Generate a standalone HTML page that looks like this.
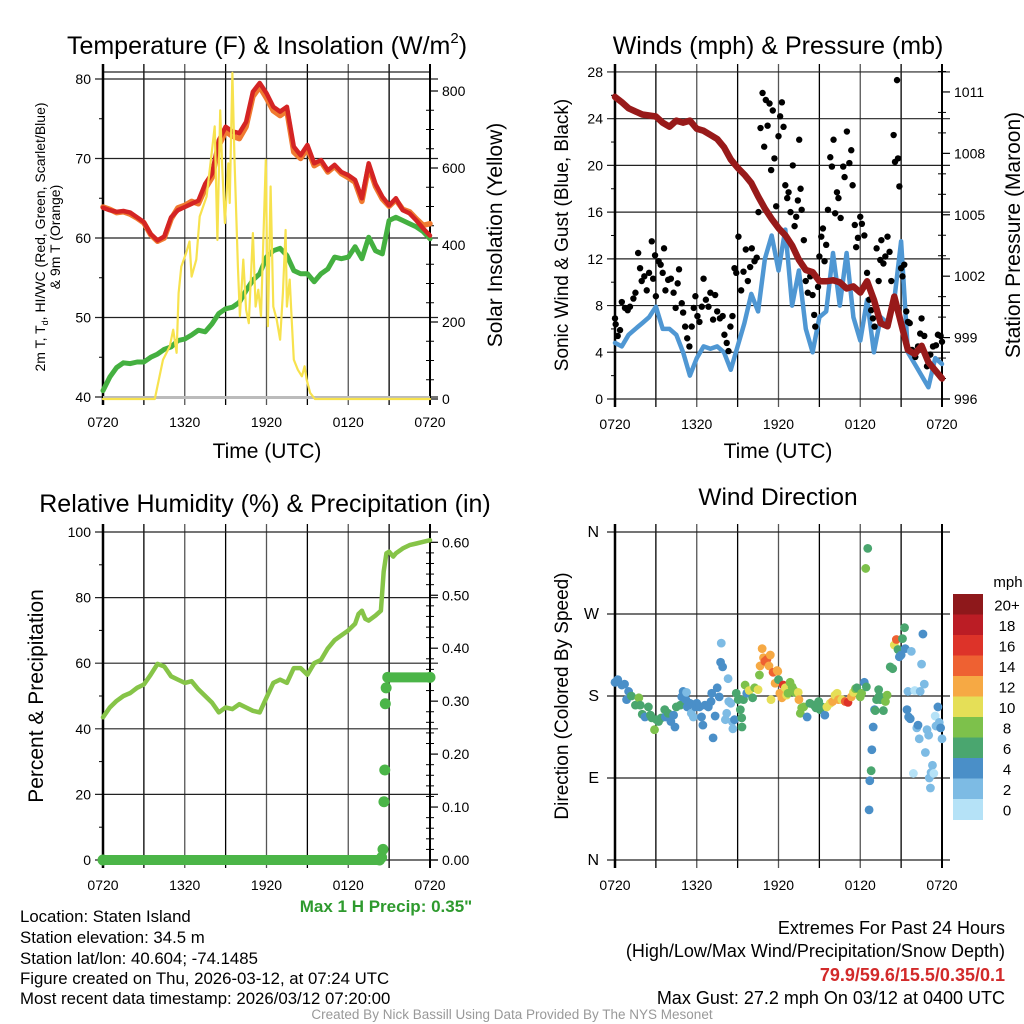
<!DOCTYPE html>
<html><head><meta charset="utf-8"><title>Mesonet Meteogram</title>
<style>
html,body{margin:0;padding:0;background:#fff;}
svg{display:block;font-family:"Liberation Sans",Arial,sans-serif;}
.tk{font-size:14px;fill:#000;}
</style></head>
<body>
<svg id="chart" width="1024" height="1024" viewBox="0 0 1024 1024" xmlns="http://www.w3.org/2000/svg">
<rect width="1024" height="1024" fill="#fff"/>
<g id="p1"></g>
<g id="p2"></g>
<g id="p3"></g>
<g id="p4"></g>

<text x="267" y="54" font-size="25" text-anchor="middle">Temperature (F) &amp; Insolation (W/m<tspan font-size="15" dy="-11">2</tspan><tspan dy="11">)</tspan></text>
<text x="778" y="54" font-size="25" text-anchor="middle">Winds (mph) &amp; Pressure (mb)</text>
<text x="265" y="512" font-size="25" text-anchor="middle">Relative Humidity (%) &amp; Precipitation (in)</text>
<text x="778" y="505" font-size="24.5" text-anchor="middle">Wind Direction</text>

<text x="267" y="458" font-size="21" text-anchor="middle">Time (UTC)</text>
<text x="778" y="458" font-size="21" text-anchor="middle">Time (UTC)</text>

<text transform="translate(45,237) rotate(-90)" font-size="14" text-anchor="middle">2m T, T<tspan font-size="9" dy="3">d</tspan><tspan dy="-3">, HI/WC (Red, Green, Scarlet/Blue)</tspan></text>
<text transform="translate(60,237) rotate(-90)" font-size="14" text-anchor="middle">&amp; 9m T (Orange)</text>
<text transform="translate(502,235) rotate(-90)" font-size="21" text-anchor="middle">Solar Insolation (Yellow)</text>
<text transform="translate(568,235) rotate(-90)" font-size="19" text-anchor="middle">Sonic Wind &amp; Gust (Blue, Black)</text>
<text transform="translate(1020,235) rotate(-90)" font-size="21" text-anchor="middle">Station Pressure (Maroon)</text>
<text transform="translate(43,696) rotate(-90)" font-size="21" text-anchor="middle">Percent &amp; Precipitation</text>
<text transform="translate(568,696) rotate(-90)" font-size="19" text-anchor="middle">Direction (Colored By Speed)</text>

<text x="386" y="912" font-size="17" font-weight="bold" fill="#2e9a2e" text-anchor="middle">Max 1 H Precip: 0.35"</text>
<g font-size="16.8">
<text x="20" y="922">Location: Staten Island</text>
<text x="20" y="943">Station elevation: 34.5 m</text>
<text x="20" y="964">Station lat/lon: 40.604; -74.1485</text>
<text x="20" y="984">Figure created on Thu, 2026-03-12, at 07:24 UTC</text>
<text x="20" y="1004">Most recent data timestamp: 2026/03/12 07:20:00</text>
</g>
<g font-size="18" text-anchor="end">
<text x="1005" y="934">Extremes For Past 24 Hours</text>
<text x="1005" y="957">(High/Low/Max Wind/Precipitation/Snow Depth)</text>
<text x="1005" y="981" font-weight="bold" fill="#d22a2a">79.9/59.6/15.5/0.35/0.1</text>
<text x="1005" y="1004">Max Gust: 27.2 mph On 03/12 at 0400 UTC</text>
</g>
<text x="512" y="1019" font-size="13.5" fill="#999" text-anchor="middle">Created By Nick Bassill Using Data Provided By The NYS Mesonet</text>
</svg>
<script>
const NS='http://www.w3.org/2000/svg';
// ---- data (hours since 07:20 UTC) ----
const halfHours=[0,0.5,1,1.5,2,2.5,3,3.5,4,4.5,5,5.5,6,6.5,7,7.5,8,8.5,9,9.5,10,10.5,11,11.5,12,12.5,13,13.5,14,14.5,15,15.5,16,16.5,17,17.5,18,18.5,19,19.5,20,20.5,21,21.5,22,22.5,23,23.5,24];
const timeLabels=['0720','1320','1920','0120','0720'];
const tempRed=[63.8,63.5,63.3,63.4,63.2,62.6,62.0,60.5,59.7,60.2,62.6,63.5,63.9,64.3,64.7,66.8,68.1,72.3,74.0,73.4,73.2,74.6,78.4,79.5,78.2,76.5,75.9,76.5,71.5,70.4,71.7,69.4,69.8,68.5,69.2,68.3,67.9,67.3,65.0,69.4,66.8,65.2,64.1,65.0,63.5,63.1,62.2,61.2,60.3];
const temp9m=[63.9,63.6,63.2,63.3,63.0,62.5,61.9,60.4,59.6,60.0,62.4,63.8,64.1,64.6,64.3,66.2,67.6,71.6,73.4,72.8,72.5,74.0,77.8,79.0,77.6,76.0,75.4,76.0,70.8,70.0,71.3,69.1,69.6,68.3,69.0,68.1,67.6,67.0,64.6,69.0,66.5,64.9,64.0,64.8,63.6,63.3,62.4,61.6,61.8];
const dewpoint=[40.8,42.5,43.7,44.3,44.2,44.4,44.4,45.0,45.4,46.0,46.3,47.1,47.3,47.8,48.4,48.2,49.2,50.5,51.1,51.3,51.9,53.4,54.7,55.5,57.6,58.4,58.7,57.8,55.9,55.5,55.5,54.5,55.5,56.1,57.6,57.4,57.6,58.9,57.4,60.1,58.4,58.0,62.2,62.6,62.2,61.8,61.4,60.8,59.9];
const solarHours=[0,3.8,4.4,4.9,5.15,5.4,5.55,5.75,6.1,6.35,6.5,6.85,7.1,7.6,7.95,8.2,8.4,8.6,8.75,8.95,9.2,9.3,9.5,9.65,9.9,10.05,10.3,10.5,10.7,11.0,11.2,11.4,11.6,11.95,12.1,12.3,12.5,12.75,13.0,13.2,13.4,13.5,13.7,13.85,14.0,14.3,14.6,14.8,14.95,15.2,15.55,24];
const solarValues=[0,0,102,137,180,120,275,344,379,409,318,362,474,526,630,708,413,750,604,457,612,509,847,621,344,215,362,232,197,431,240,284,215,621,189,552,240,206,154,275,439,240,310,206,102,76,59,85,50,16,0,0];
const pressure=[1010.76,1010.5,1010.2,1010.05,1009.9,1009.85,1009.8,1009.5,1009.3,1009.6,1009.5,1009.6,1009.2,1009.1,1008.9,1008.7,1008.3,1007.7,1007.3,1006.96,1006.55,1005.9,1005.3,1004.8,1004.35,1004.0,1003.5,1002.8,1002.3,1002.2,1001.75,1001.75,1001.8,1001.7,1001.4,1001.5,1001.2,1001.75,1000.85,999.7,999.55,1001.0,999.7,998.4,998.2,998.6,997.8,997.4,997.0];
const windSpeed=[4.8,4.5,5.5,6.0,6.5,7.0,7.9,6.0,6.0,5.5,4.0,2.0,3.5,4.5,4.3,4.5,4.0,2.5,4.5,6.5,9.0,7.5,12.0,14.0,11.0,14.5,8.0,11.0,6.0,4.0,7.0,7.5,12.5,8.0,12.5,7.0,5.0,8.5,4.0,7.0,6.5,8.5,13.5,4.0,3.0,2.0,1.0,3.5,3.0];
const gustHours=[0,0.05,0.2,0.37,0.5,0.73,0.93,1.1,1.35,1.5,1.7,1.84,1.96,2.15,2.33,2.5,2.7,2.8,2.94,3.0,3.2,3.35,3.5,3.6,3.7,3.9,4.1,4.3,4.45,4.6,4.7,4.9,5.0,5.15,5.3,5.46,5.63,5.78,5.9,6.05,6.2,6.37,6.5,6.67,6.86,7.0,7.2,7.35,7.5,7.7,7.9,8.03,8.2,8.33,8.47,8.62,8.77,8.9,9.06,9.26,9.43,9.6,9.75,9.92,10.04,10.24,10.4,10.53,10.68,10.83,10.95,11.07,11.2,11.34,11.46,11.58,11.7,11.83,12.0,12.12,12.25,12.37,12.5,12.64,12.74,12.88,13.05,13.18,13.3,13.42,13.52,13.62,13.7,13.86,14.0,14.15,14.33,14.5,14.62,14.7,14.9,15.0,15.14,15.26,15.38,15.5,15.63,15.8,15.92,16.04,16.16,16.29,16.4,16.56,16.75,16.85,17.02,17.2,17.34,17.44,17.6,17.7,17.83,18.0,18.12,18.3,18.5,18.66,18.8,18.93,19.05,19.2,19.35,19.47,19.55,19.7,19.84,20.0,20.15,20.28,20.45,20.55,20.7,20.77,20.87,21.0,21.1,21.23,21.38,21.5,21.63,21.8,22.04,22.24,22.4,22.5,22.7,22.9,23.14,23.34,23.56,23.7,23.9,24.0];
const gustValues=[6.9,6.4,5.4,5.9,8.3,7.8,7.6,7.9,8.6,9.1,12.5,11.2,10.1,10.5,9.3,10.8,13.5,10.3,12.3,8.8,11.8,11.5,10.8,12.9,9.3,10.2,10.3,9.1,7.8,9.9,11.1,8.2,7.4,6.2,5.2,4.5,6.2,7.8,8.8,7.1,6.6,7.9,10.3,8.5,7.9,9.1,6.8,8.9,7.5,6.9,7.1,5.5,4.8,4.1,6.2,7.1,11.2,10.8,13.9,9.3,10.9,12.8,10.1,11.3,12.9,11.8,12.1,16.0,23.2,26.2,21.6,25.6,23.4,25.3,19.6,24.7,20.6,16.5,22.5,24.2,25.4,23.3,18.3,17.2,17.7,16.0,20.0,14.8,15.6,17.0,22.2,18.0,16.2,13.6,10.1,9.1,10.5,8.9,7.2,6.2,9.6,12.2,13.9,14.6,11.8,13.2,16.2,20.7,19.9,22.2,15.9,17.7,17.2,15.5,19.9,19.0,22.9,20.2,21.3,18.3,14.9,13.0,13.8,15.6,15.0,14.0,10.8,8.5,7.6,6.9,6.2,12.9,10.1,11.9,13.6,11.6,12.2,13.9,12.6,10.1,22.6,20.3,27.3,20.6,18.2,11.2,10.5,11.5,7.5,6.6,6.5,4.2,3.6,4.5,5.6,6.9,5.4,2.8,3.8,4.5,4.6,5.5,5.4,4.9];
const rhHours=[0,0.5,1,1.5,2,2.5,3,3.5,4,4.5,5,5.5,6,6.5,7,7.5,8,8.5,9,9.5,10,10.5,11,11.5,12,12.5,13,13.5,14,14.5,15,15.5,16,16.5,17,17.5,18,18.5,18.75,19,19.25,19.5,20,20.4,20.6,20.8,21,21.3,21.5,22,22.5,23,23.5,24];
const rhValues=[43.5,46.5,48.5,50.0,50.9,52.5,53.5,56.5,59.8,59.0,56.0,55.0,54.0,54.5,52.0,50.0,48.0,45.0,46.5,46.0,47.5,46.5,45.5,45.0,49.5,54.0,55.0,54.0,58.5,58.5,56.5,60.0,61.0,64.5,67.0,68.5,70.0,72.0,75.0,76.0,73.5,73.0,74.5,76.0,88.0,93.5,94.0,92.5,93.5,95.0,96.0,96.5,97.0,97.5];
const precipHours=[0,20.3,20.45,20.55,20.62,20.68,20.72,20.78,20.9,24];
const precipValues=[0,0,0.005,0.02,0.11,0.17,0.295,0.325,0.345,0.345];
const dirHours=[0,0.2,0.5,0.7,0.85,1,1.2,1.5,1.75,1.85,2,2.2,2.45,2.6,2.7,2.9,3.05,3.2,3.4,3.65,3.7,3.9,4.1,4.3,4.4,4.5,4.8,4.9,5,5.2,5.25,5.3,5.5,5.6,5.75,5.9,6,6.2,6.35,6.45,6.6,6.85,7.05,7.1,7.2,7.35,7.5,7.65,7.75,7.8,7.9,8.1,8.2,8.3,8.35,8.5,8.6,8.65,8.77,8.9,9.05,9.2,9.3,9.32,9.43,9.55,9.67,9.85,10.1,10.25,10.5,10.6,10.65,10.8,10.9,11,11.15,11.3,11.4,11.45,11.6,11.75,11.9,11.95,12,12.1,12.25,12.35,12.5,12.6,12.7,12.85,13,13.1,13.2,13.45,13.5,13.6,13.7,13.85,14.1,14.3,14.6,14.75,14.95,15.05,15.2,15.4,15.55,15.8,15.97,16.15,16.3,16.4,16.65,16.9,17.1,17.35,17.5,17.65,17.75,18,18.1,18.3,18.4,18.55,18.45,18.65,18.7,18.8,18.85,18.95,19.05,19.1,19.2,19.35,19.4,19.47,19.7,19.85,19.97,20.2,20.38,20.5,20.65,20.77,20.87,21,21.1,21.25,21.3,21.5,21.43,21.55,21.67,21.75,21.9,22,22.15,22.24,22.33,22.4,22.5,22.6,22.7,22.78,22.9,23.02,23.07,23.15,23.2,23.3,23.4,23.5,23.56,23.7,23.8,23.9,24];
const dirValues=[195,198,192,193,176,185,180,170,178,170,160,157,168,159,156,143,154,152,156,165,157,161,152,159,146,168,170,179,185,176,184,168,172,161,157,168,172,168,157,148,170,168,174,183,134,158,189,179,217,238,212,154,161,199,174,172,152,144,154,183,176,165,156,146,176,192,183,186,178,189,187,203,213,232,222,218,220,213,225,176,206,194,208,207,198,183,178,192,189,181,183,195,190,187,184,184,176,161,167,168,157,172,170,167,174,165,168,159,168,172,174,181,183,176,176,174,173,179,184,188,189,179,183,195,320,342,190,55,87,98,121,146,165,164,176,187,180,176,164,174,181,212,210,236,242,231,223,225,243,255,232,185,165,157,155,229,95,186,145,148,133,185,215,248,193,118,143,137,90,79,96,104,95,158,147,168,151,145,133];
const dirSpeeds=[4,4,4,4,5,5,6,6,8,6,6,4,6,6,6,8,6,6,6,6,4,6,4,4,4,6,6,4,4,4,2,4,4,2,2,4,4,4,4,4,4,4,4,4,4,4,4,4,4,2,4,2,2,2,2,2,2,2,4,6,6,6,6,6,6,8,4,10,6,8,10,8,12,12,12,14,14,12,12,10,14,12,12,12,6,12,12,16,10,10,8,8,8,8,8,10,12,8,8,8,4,6,6,6,6,6,6,4,10,10,12,10,10,12,10,14,16,12,10,8,6,8,8,4,8,6,6,4,4,6,4,4,4,6,6,6,6,6,6,8,8,6,6,10,14,6,4,4,6,6,4,2,4,4,4,2,0,0,2,4,2,2,2,4,2,2,2,2,2,2,2,2,1,1,2,4,2,4,2];
const speedBins=['0','2','4','6','8','10','12','14','16','18','20+'];
const speedColors=['#b5e2f7','#7dbbe4','#4a8fc8','#4aa66f','#7dc14b','#e5df57','#f6a944','#ee6132','#dd3329','#bb1d25','#8e181b'];

// ---- helpers ----
function el(parent,tag,attrs){const e=document.createElementNS(NS,tag);for(const k in attrs)e.setAttribute(k,attrs[k]);parent.appendChild(e);return e;}
function txt(parent,x,y,s,anchor,size){const t=el(parent,'text',{x:x,y:y,'text-anchor':anchor||'middle','font-size':size||14});t.textContent=s;return t;}
const X0=103,X1=430,OFF=512;
function xs(h,off){return (off||0)+X0+h*(X1-X0)/24;}
function pathFrom(xsArr,ysArr){return xsArr.map((x,i)=>(i?'L':'M')+x.toFixed(1)+','+ysArr[i].toFixed(1)).join('');}

function frame(g,off,top,bottom,leftTicks,leftLabel,rightTicks,rightLabel,minorL,minorR,extraTop){
  const left=X0+off,right=X1+off;
  const grid=el(g,'g',{});
  
  
  for(let i=0;i<=8;i++){const x=xs(i*3,off);el(grid,'line',{x1:x,x2:x,y1:top-8,y2:bottom+8,stroke:(i%2?'#000':'#555'),'stroke-width':1.3});}
  leftTicks.forEach((v,i)=>{el(grid,'line',{x1:left-8,x2:right+8,y1:v,y2:v,stroke:'#222','stroke-width':1.2});txt(g,left-12,v+5,leftLabel[i],'end',14);});
  if(extraTop) el(grid,'line',{x1:left,x2:right,y1:top,y2:top,stroke:'#222','stroke-width':1.2});
  minorL.forEach(v=>el(grid,'line',{x1:left-4,x2:left,y1:v,y2:v,stroke:'#000','stroke-width':1}));
  rightTicks.forEach((v,i)=>{el(grid,'line',{x1:right,x2:right+8,y1:v,y2:v,stroke:'#000','stroke-width':1.2});if(rightLabel)txt(g,right+12,v+5,rightLabel[i],'start',14);});
  minorR.forEach(v=>el(grid,'line',{x1:right-4,x2:right+4,y1:v,y2:v,stroke:'#000','stroke-width':1}));
  el(grid,'line',{x1:left,x2:left,y1:top-8,y2:bottom+8,stroke:'#000','stroke-width':2.5});
  el(grid,'line',{x1:right,x2:right,y1:top-8,y2:bottom+8,stroke:'#000','stroke-width':2});
  timeLabels.forEach((s,i)=>{const t=txt(g,xs(i*6,off),bottom+30,s,'middle',14);t.setAttribute('class','tk');});
}
function line(g,name,hArr,vArr,xf,yf,color,w){
  const p=el(g,'path',{d:pathFrom(hArr.map(xf),vArr.map(yf)),fill:'none',stroke:color,'stroke-width':w,'stroke-linejoin':'round','stroke-linecap':'round'});
  
  
  return p;
}

// ---- Panel 1 ----
(function(){
  const g=document.getElementById('p1');
  const yL=v=>397-(v-40)*7.95, yR=v=>399-v*0.385;
  const lt=[40,50,60,70,80].map(yL);
  const minL=[45,55,65,75].map(yL);
  const rt=[0,200,400,600,800].map(yR);
  const minR=[];for(let v=50;v<=800;v+=50)if(v%200)minR.push(yR(v));
  frame(g,0,72,397,lt,['40','50','60','70','80'],rt,['0','200','400','600','800'],minL,minR,true);
  el(g,'rect',{x:X0,y:396,width:X1-X0,height:3,fill:'#bbb'});
  line(g,'dewpoint-line',halfHours,dewpoint,h=>xs(h),yL,'#44b040',5);
  line(g,'temp-9m-line',halfHours,temp9m,h=>xs(h),yL,'#f07a30',5.5);
  line(g,'temp-2m-line',halfHours,tempRed,h=>xs(h),yL,'#d42424',4.5);
  line(g,'solar-line',solarHours,solarValues,h=>xs(h),yR,'#f7e24e',2.2);
})();

// ---- Panel 2 ----
(function(){
  const g=document.getElementById('p2');
  const yL=v=>399-v*11.68, yR=p=>399-(p-996)*20.47;
  const vals=[0,4,8,12,16,20,24,28];
  const minL=[2,6,10,14,18,22,26].map(yL);
  const pr=[996,999,1002,1005,1008,1011];
  const minR=[];for(let p=997;p<=1012;p++)if((p-996)%3)minR.push(yR(p));
  frame(g,OFF,72,399,vals.map(yL),vals.map(String),pr.map(yR),pr.map(String),minL,minR,false);
  line(g,'wind-speed-line',halfHours,windSpeed,h=>xs(h,OFF),yL,'#4f97d3',4.5);
  gustHours.forEach((h,i)=>{
    const c=el(g,'circle',{cx:xs(h,OFF),cy:yL(gustValues[i]),r:3.2,fill:'#000'});
    
    
  });
  line(g,'pressure-line',halfHours,pressure,h=>xs(h,OFF),yR,'#981a1a',6.5);
})();

// ---- Panel 3 ----
(function(){
  const g=document.getElementById('p3');
  const yL=v=>860-v*3.28, yR=v=>860-v*529.5;
  const vals=[0,20,40,60,80,100];
  const minL=[10,30,50,70,90].map(yL);
  const pv=[0,0.1,0.2,0.3,0.4,0.5,0.6];
  const minR=[];for(let i=1;i<31;i++)if(i%5)minR.push(yR(i*0.02));
  frame(g,0,532,860,vals.map(yL),vals.map(String),pv.map(yR),pv.map(v=>v.toFixed(2)),minL,minR,false);
  line(g,'humidity-line',rhHours,rhValues,h=>xs(h),yL,'#86c448',4.5);
  for(let i=1;i<precipHours.length;i++){
    if(precipValues[i]===precipValues[i-1]){
      const s=el(g,'line',{x1:xs(precipHours[i-1]),x2:xs(precipHours[i]),y1:yR(precipValues[i]),y2:yR(precipValues[i]),stroke:'#4bb548','stroke-width':10,'stroke-linecap':'round'});
      
      
    }
  }
  precipHours.forEach((h,i)=>{
    const c=el(g,'circle',{cx:xs(h),cy:yR(precipValues[i]),r:5.5,fill:'#4bb548'});
    
    
  });
})();

// ---- Panel 4 ----
(function(){
  const g=document.getElementById('p4');
  const yD=d=>860-d*(328/360);
  const dv=[0,90,180,270,360];
  frame(g,OFF,532,860,dv.map(yD),['N','E','S','W','N'],[],null,[],[],false);
  g.querySelectorAll('text').forEach(t=>{if(/^[NESW]$/.test(t.textContent)){t.setAttribute('font-size','16');t.setAttribute('x',parseFloat(t.getAttribute('x'))-4);}});
  dirHours.forEach((h,i)=>{
    const bin=Math.min(10,Math.floor(dirSpeeds[i]/2));
    const c=el(g,'circle',{cx:xs(h,OFF),cy:yD(dirValues[i]),r:4.4,fill:speedColors[bin]});
    
    
  });
  const cb=el(g,'g',{});
  
  
  const top=594,h=20.5;
  txt(cb,1008,587,'mph','middle',15);
  speedBins.slice().reverse().forEach((s,i)=>{
    el(cb,'rect',{x:953,y:top+i*h,width:30,height:h+0.5,fill:speedColors[10-i]});
    txt(cb,1007,top+i*h+h/2+6,s,'middle',15);
  });
})();
</script>
</body></html>
